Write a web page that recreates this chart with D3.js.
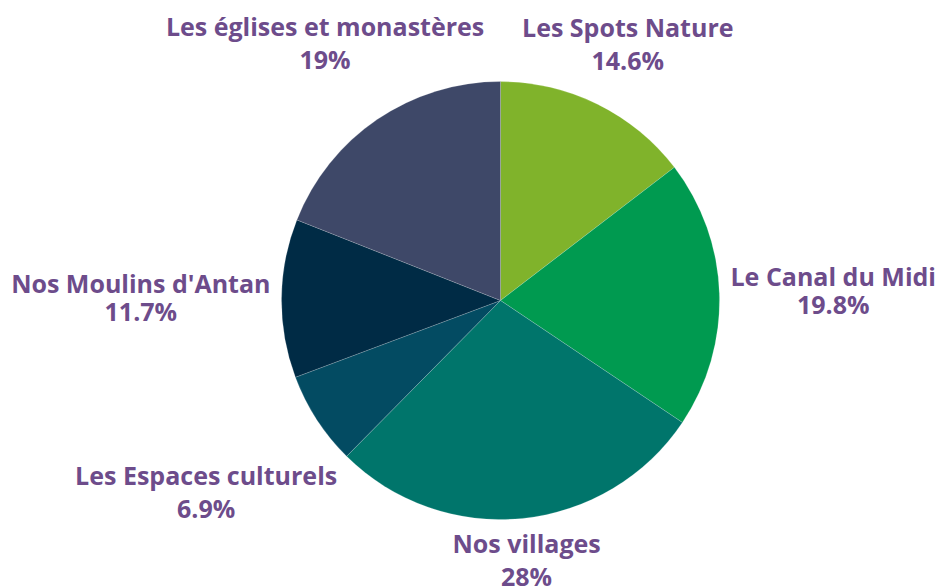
<!DOCTYPE html>
<html>
<head>
<meta charset="utf-8">
<script src="https://cdn.jsdelivr.net/npm/d3@7"></script>
<style>
  body { margin: 0; background: #fff; }
  text { font-family: "Open Sans", sans-serif; font-weight: 700; }
</style>
</head>
<body>
<svg id="chart" width="940" height="588"></svg>
<script>
// categories + shares (%) in clockwise order from 12 o'clock
var categories = ["Les Spots Nature", "Le Canal du Midi", "Nos villages",
                  "Les Espaces culturels", "Nos Moulins d'Antan", "Les églises et monastères"];
var values = [14.6, 19.8, 28, 6.9, 11.7, 19];
var valueLabels = ["14.6%", "19.8%", "28%", "6.9%", "11.7%", "19%"];
var colors = ["#80b32b", "#009a50", "#00756b", "#034b62", "#002b45", "#3e4868"];

var cx = 500.5, cy = 300.5, R = 219,
    labelGap = 230,   // distance from centre to nearest edge of a label box
    fontSize = 25, firstBase = 22.5;

var svg = d3.select("#chart");

var data = categories.map(function(c, i) {
    return { name: c, value: values[i], label: valueLabels[i], color: colors[i] };
});

var pie = d3.pie().sort(null).value(d => d.value);
var arc = d3.arc().innerRadius(0).outerRadius(R);
var arcs = pie(data);

var g = svg.append("g").attr("transform", "translate(" + cx + "," + cy + ")");

g.selectAll("path.slice")
    .data(arcs)
    .enter().append("path")
    .attr("class", "slice")
    .attr("d", arc)
    .attr("fill", d => d.data.color)
    .attr("stroke", "rgba(255,255,255,0.35)")
    .attr("stroke-width", 0.5);

// distance from origin to an axis-aligned box centred at (x,y)
function boxDist(x, y, w, h) {
    var dx = Math.max(Math.abs(x) - w / 2, 0),
        dy = Math.max(Math.abs(y) - h / 2, 0);
    return Math.sqrt(dx * dx + dy * dy);
}

var labels = g.selectAll("g.lbl")
    .data(arcs)
    .enter().append("g")
    .attr("class", "lbl");

labels.each(function(d) {
    var sel = d3.select(this);
    var t1 = sel.append("text").attr("text-anchor", "middle")
        .attr("font-size", fontSize).attr("fill", "#6d4c8b").text(d.data.name);
    var t2 = sel.append("text").attr("text-anchor", "middle")
        .attr("font-size", fontSize).attr("fill", "#6d4c8b").text(d.data.label);
    var w = Math.max(t1.node().getComputedTextLength(), t2.node().getComputedTextLength());
    var a = (d.startAngle + d.endAngle) / 2,
        ux = Math.sin(a), uy = -Math.cos(a);
    // side labels sit a bit tighter than the ones above / below the pie
    var lineH = Math.abs(uy) > 0.5 ? 33 : 28,
        boxH = firstBase + lineH + 2;
    // push the box outward along the mid angle until its nearest edge hits labelGap
    var lo = 0, hi = 600;
    for (var k = 0; k < 50; k++) {
        var m = (lo + hi) / 2;
        if (boxDist(ux * m, uy * m, w, boxH) < labelGap) lo = m; else hi = m;
    }
    var x = ux * lo, y = uy * lo, top = y - boxH / 2;
    t1.attr("x", x).attr("y", top + firstBase);
    t2.attr("x", x).attr("y", top + firstBase + lineH);
});
</script>
</body>
</html>
